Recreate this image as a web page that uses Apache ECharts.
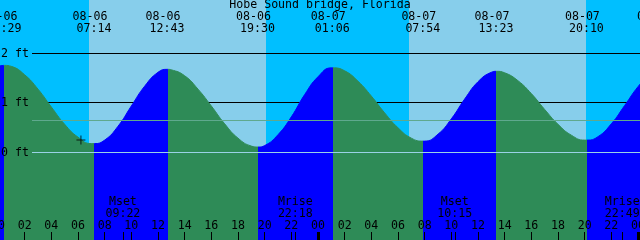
<!DOCTYPE html>
<html><head><meta charset="utf-8">
<script src="https://cdn.jsdelivr.net/npm/echarts@6/dist/echarts.min.js"></script>
<style>html,body{margin:0;padding:0;background:#00BFFF}#c{width:640px;height:240px}</style>
</head><body><div id="c"></div>
<script>
// ---------- data (times in hours since 08-06 00:00, heights in ft) ----------
const stationName = 'Hobe Sound bridge, Florida';
const hourTimes = [0,1,2,3,4,5,6,7,8,9,10,11,12,13,14,15,16,17,18,19,20,21,22,23,24,
  25,26,27,28,29,30,31,32,33,34,35,36,37,38,39,40,41,42,43,44,45,46,47,48,49];
const hourHeights = [1.74,1.74,1.57,1.28,0.92,0.57,0.31,0.18,0.25,0.53,0.94,1.34,1.62,1.67,1.55,1.28,0.94,0.58,0.29,0.13,0.14,0.36,0.72,1.17,1.53,
  1.71,1.65,1.44,1.14,0.80,0.50,0.29,0.23,0.37,0.68,1.08,1.43,1.62,1.61,1.45,1.19,0.87,0.57,0.35,0.25,0.32,0.58,0.95,1.33,1.62];
const eventTimes = [0.483, 7.233, 12.717, 19.5, 25.1, 31.9, 37.383, 44.167, 49.567];
const eventHeights = [1.76, 0.18, 1.68, 0.11, 1.71, 0.23, 1.64, 0.25, 1.72];
const eventKinds = ['high','low','high','low','high','low','high','low','high'];
const eventDates = ['08-06','08-06','08-06','08-06','08-07','08-07','08-07','08-07','08-08'];
const eventClocks = ['00:29','07:14','12:43','19:30','01:06','07:54','13:23','20:10','01:34'];
const sunriseTimes = [6.83, 30.83];
const sunsetTimes = [20.1, 44.08];
const moonTimes = [9.367, 22.3, 34.25, 46.817];
const moonNames = ['Mset','Mrise','Mset','Mrise'];
const moonClocks = ['09:22','22:18','10:15','22:49'];
const levelTicks = [0, 1, 2];
const levelTickLabels = ['0 ft', '1 ft', '2 ft'];
const meanLevel = 0.65;
const midnightTimes = [24, 48];
const nowTimes = [6.22];
const nowHeights = [0.25];

// ---------- styles ----------
const NIGHT = '#00BFFF', DAY = '#87CEEB', RISE = '#0000FF', FALL = '#2E8B57';
const MEAN_COLOR = '#5FA98E', DATUM_COLOR = '#9AD2E6';
const FONT = 'DejaVu Sans Mono';
const FS = 11.6;
const LINE_START_PX = 32;

const curve = hourTimes.map((t, i) => [t, hourHeights[i]])
  .concat(eventTimes.map((t, i) => [t, eventHeights[i]]))
  .sort((a, b) => a[0] - b[0]);

const pieces = [];
eventTimes.forEach((t, i) => {
  const color = eventKinds[i] === 'high' ? RISE : FALL;
  if (i === 0) pieces.push({ lt: t, color });
  else pieces.push({ gte: eventTimes[i - 1], lt: t, color });
});
pieces.push({ gte: eventTimes[eventTimes.length - 1],
  color: eventKinds[eventKinds.length - 1] === 'high' ? FALL : RISE });

const pad = v => (v < 10 ? '0' : '') + v;
const crisp = y => Math.floor(y) + 0.5;

function textEl(text, x, y, align) {
  return { type: 'text', style: { text, x, y, align: align || 'center', verticalAlign: 'middle',
    fontFamily: FONT, fontSize: FS, fill: '#000' } };
}

const chart = echarts.init(document.getElementById('c'), null, { renderer: 'canvas' });
chart.setOption({
  animation: false,
  backgroundColor: NIGHT,
  title: { text: stationName, left: 'center', top: -1, padding: 0,
    textStyle: { fontFamily: FONT, fontSize: FS, fontWeight: 'normal', color: '#000' } },
  grid: { left: -2, top: 0, width: 645, height: 240, containLabel: false, outerBoundsMode: 'none' },
  xAxis: { type: 'value', min: 0, max: 48.375, interval: 2, z: 10,
    axisLine: { show: false, onZero: false }, splitLine: { show: false },
    axisTick: { show: true, inside: true, length: 8, lineStyle: { color: '#000', width: 1 } },
    axisLabel: { inside: true, margin: 8, showMinLabel: true, showMaxLabel: false,
      fontFamily: FONT, fontSize: FS, color: '#000',
      formatter: v => (v % 2 === 0 ? pad(v % 24) : '') } },
  yAxis: { type: 'value', min: -1.7677, max: 3.0808, show: false },
  visualMap: { type: 'piecewise', show: false, dimension: 0, seriesIndex: 2, pieces },
  series: [
    { // day bands
      type: 'custom', z: 0, silent: true,
      data: sunriseTimes.map((t, i) => [t, sunsetTimes[i], 0]),
      encode: { x: [0, 1], y: 2 },
      renderItem(p, api) {
        const x1 = Math.round(api.coord([api.value(0), 0])[0]);
        const x2 = Math.round(api.coord([api.value(1), 0])[0]);
        return { type: 'rect', shape: { x: x1, y: 0, width: x2 - x1, height: api.getHeight() },
          style: { fill: DAY } };
      }
    },
    { // black level lines under the tide
      type: 'custom', z: 1, silent: true,
      data: levelTicks.filter(v => v > 0).map(v => [0, v]),
      encode: { x: 0, y: 1 },
      renderItem(p, api) {
        const y = crisp(api.coord([0, api.value(1)])[1]);
        return { type: 'line', shape: { x1: LINE_START_PX, y1: y, x2: api.getWidth(), y2: y },
          style: { stroke: '#000', lineWidth: 1 } };
      }
    },
    { // tide curve
      type: 'line', z: 2, silent: true, data: curve, smooth: 0.5, symbol: 'none',
      lineStyle: { width: 1 }, areaStyle: { opacity: 1, origin: 'start' }
    },
    { // mean & datum lines over the tide
      type: 'custom', z: 3, silent: true,
      data: [[0, meanLevel, 0], [0, levelTicks[0], 1]],
      encode: { x: 0, y: 1 },
      renderItem(p, api) {
        const y = crisp(api.coord([0, api.value(1)])[1]);
        return { type: 'line', shape: { x1: LINE_START_PX, y1: y, x2: api.getWidth(), y2: y },
          style: { stroke: api.value(2) ? DATUM_COLOR : MEAN_COLOR, lineWidth: 1 } };
      }
    },
    { // level labels
      type: 'custom', z: 4, silent: true,
      data: levelTicks.map((v, i) => [0, v, i]),
      encode: { x: 0, y: 1 },
      renderItem(p, api) {
        const y = api.coord([0, api.value(1)])[1];
        return textEl(levelTickLabels[api.value(2)], 1, y, 'left');
      }
    },
    { // tide event labels at top
      type: 'custom', z: 4, silent: true,
      data: eventTimes.map((t, i) => [t, 0, i]),
      encode: { x: 0, y: 1 },
      renderItem(p, api) {
        const i = api.value(2);
        const x = api.coord([api.value(0), 0])[0];
        return { type: 'group', children: [
          textEl(eventDates[i], x - 4.5, 17),
          textEl(eventClocks[i], x - 0.5, 29)
        ] };
      }
    },
    { // moon events at bottom
      type: 'custom', z: 4, silent: true,
      data: moonTimes.map((t, i) => [t, 0, i]),
      encode: { x: 0, y: 1 },
      renderItem(p, api) {
        const i = api.value(2);
        const x = api.coord([api.value(0), 0])[0];
        const h = api.getHeight();
        const xt = Math.round(x) + 0.5;
        return { type: 'group', children: [
          textEl(moonNames[i], x, 201.5),
          textEl(moonClocks[i], x, 213.5),
          { type: 'line', shape: { x1: xt, y1: h - 8, x2: xt, y2: h }, style: { stroke: '#000', lineWidth: 1 } }
        ] };
      }
    },
    { // midnight thick ticks
      type: 'custom', z: 4, silent: true,
      data: midnightTimes.map(t => [t, 0]),
      encode: { x: 0, y: 1 },
      renderItem(p, api) {
        const x = Math.round(api.coord([api.value(0), 0])[0]);
        const h = api.getHeight();
        return { type: 'rect', shape: { x: x - 1, y: h - 8, width: 3, height: 8 }, style: { fill: '#000' } };
      }
    },
    { // current time mark
      type: 'scatter', z: 5, silent: true,
      data: nowTimes.map((t, i) => [t, nowHeights[i]]),
      symbol: 'path://M0,4H9V5H0Z M4,0H5V9H4Z', symbolSize: 9,
      itemStyle: { color: '#000' }
    }
  ]
});
</script></body></html>
